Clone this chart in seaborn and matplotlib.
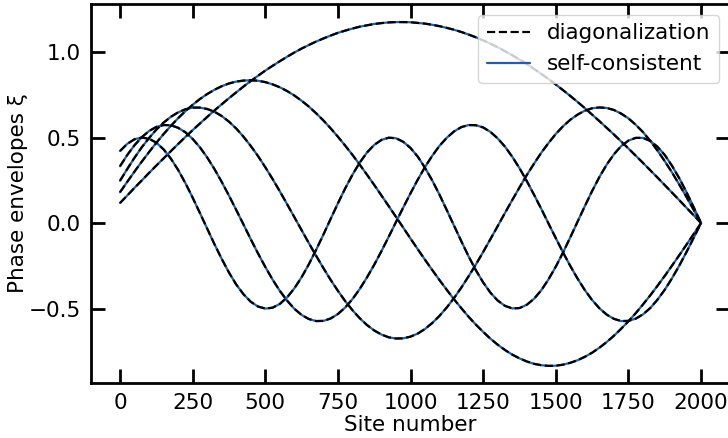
import numpy as np
import pandas as pd
import matplotlib
matplotlib.use("Agg")
import matplotlib.pyplot as plt
import seaborn as sns

# Site positions (every 25 sites)
sites = list(range(0, 2001, 25))

# Phase envelopes (5 modes)
mode1 = [0.117, 0.161, 0.206, 0.249, 0.293, 0.336, 0.378, 0.420, 0.462, 0.503,
         0.543, 0.582, 0.620, 0.658, 0.694, 0.730, 0.764, 0.798, 0.830, 0.861,
         0.891, 0.919, 0.946, 0.972, 0.997, 1.020, 1.041, 1.061, 1.079, 1.096,
         1.112, 1.125, 1.137, 1.148, 1.156, 1.164, 1.169, 1.173, 1.175, 1.175,
         1.174, 1.170, 1.166, 1.159, 1.151, 1.141, 1.130, 1.117, 1.102, 1.086,
         1.068, 1.049, 1.028, 1.005, 0.981, 0.956, 0.930, 0.901, 0.872, 0.842,
         0.810, 0.777, 0.743, 0.708, 0.672, 0.634, 0.596, 0.557, 0.518, 0.477,
         0.436, 0.394, 0.352, 0.309, 0.266, 0.222, 0.178, 0.134, 0.089, 0.045, 0.000]
mode2 = [0.180, 0.241, 0.301, 0.359, 0.415, 0.469, 0.520, 0.568, 0.613, 0.654,
         0.691, 0.725, 0.754, 0.779, 0.800, 0.816, 0.827, 0.833, 0.835, 0.832,
         0.824, 0.811, 0.794, 0.772, 0.746, 0.715, 0.681, 0.642, 0.600, 0.554,
         0.505, 0.453, 0.399, 0.342, 0.283, 0.223, 0.161, 0.099, 0.036, -0.027,
         -0.091, -0.153, -0.215, -0.275, -0.334, -0.391, -0.446, -0.498, -0.548, -0.594,
         -0.636, -0.676, -0.711, -0.742, -0.769, -0.791, -0.809, -0.823, -0.831, -0.835,
         -0.834, -0.828, -0.817, -0.802, -0.782, -0.758, -0.729, -0.696, -0.659, -0.618,
         -0.574, -0.527, -0.476, -0.423, -0.367, -0.309, -0.249, -0.188, -0.126, -0.063, 0.000]
mode3 = [0.247, 0.316, 0.382, 0.443, 0.497, 0.546, 0.587, 0.621, 0.647, 0.665,
         0.675, 0.675, 0.667, 0.651, 0.626, 0.593, 0.553, 0.505, 0.451, 0.392,
         0.327, 0.258, 0.186, 0.111, 0.035, -0.041, -0.117, -0.191, -0.263, -0.332,
         -0.396, -0.456, -0.509, -0.556, -0.596, -0.628, -0.652, -0.668, -0.675, -0.674,
         -0.664, -0.646, -0.619, -0.584, -0.542, -0.493, -0.438, -0.377, -0.311, -0.242,
         -0.169, -0.094, -0.018, 0.059, 0.134, 0.208, 0.280, 0.347, 0.411, 0.468,
         0.521, 0.566, 0.604, 0.634, 0.657, 0.671, 0.676, 0.673, 0.661, 0.640,
         0.612, 0.575, 0.532, 0.481, 0.424, 0.362, 0.296, 0.225, 0.152, 0.076, 0.000]
mode4 = [0.332, 0.398, 0.455, 0.502, 0.538, 0.562, 0.573, 0.572, 0.557, 0.531,
         0.492, 0.443, 0.384, 0.316, 0.241, 0.161, 0.077, -0.008, -0.094, -0.177,
         -0.256, -0.330, -0.396, -0.453, -0.501, -0.537, -0.561, -0.573, -0.572, -0.558,
         -0.532, -0.494, -0.445, -0.386, -0.318, -0.244, -0.164, -0.080, 0.006, 0.091,
         0.174, 0.254, 0.328, 0.394, 0.452, 0.499, 0.536, 0.561, 0.573, 0.572,
         0.559, 0.533, 0.495, 0.447, 0.388, 0.321, 0.246, 0.166, 0.083, -0.003,
         -0.088, -0.172, -0.251, -0.325, -0.392, -0.450, -0.498, -0.535, -0.560, -0.573,
         -0.572, -0.559, -0.534, -0.497, -0.448, -0.390, -0.323, -0.249, -0.169, -0.085, 0.000]
mode5 = [0.421, 0.463, 0.490, 0.500, 0.493, 0.470, 0.431, 0.377, 0.311, 0.234,
         0.149, 0.059, -0.032, -0.123, -0.209, -0.289, -0.359, -0.416, -0.460, -0.488,
         -0.500, -0.495, -0.473, -0.435, -0.382, -0.317, -0.241, -0.157, -0.068, 0.024,
         0.115, 0.202, 0.282, 0.353, 0.412, 0.457, 0.486, 0.499, 0.496, 0.475,
         0.439, 0.388, 0.323, 0.248, 0.165, 0.075, -0.016, -0.107, -0.195, -0.276,
         -0.347, -0.407, -0.453, -0.484, -0.499, -0.497, -0.478, -0.443, -0.393, -0.329,
         -0.255, -0.172, -0.083, 0.008, 0.099, 0.187, 0.269, 0.341, 0.402, 0.450,
         0.482, 0.498, 0.498, 0.480, 0.446, 0.398, 0.335, 0.262, 0.180, 0.091, 0.000]

modes = [mode1, mode2, mode3, mode4, mode5]
labels = ["diagonalization", "self-consistent"]
xticks = [0, 250, 500, 750, 1000, 1250, 1500, 1750, 2000]
yticks = [-0.5, 0.0, 0.5, 1.0]

sns.set_theme(style="ticks")
plt.rcParams['font.family'] = ['DejaVu Sans']
plt.rcParams.update({"text.color": "black", "axes.labelcolor": "black",
                     "xtick.color": "black", "ytick.color": "black"})

fig = plt.figure(figsize=(7.28, 4.38), dpi=100)
ax = fig.add_axes([0.1249, 0.1256, 0.878, 0.865])

rows = []
for i, m in enumerate(modes):
    n = min(len(m), len(sites))
    for s, v in zip(sites[:n], m[:n]):
        rows.append({"site": s, "xi": v, "mode": i + 1})
df = pd.DataFrame(rows)

blue = "#2060a6"
for i in range(len(modes)):
    d = df[df["mode"] == i + 1]
    sns.lineplot(data=d, x="site", y="xi", ax=ax, color=blue, linewidth=1.6,
                 label=labels[1] if i == 0 else None, legend=False, zorder=2)
for i in range(len(modes)):
    d = df[df["mode"] == i + 1]
    sns.lineplot(data=d, x="site", y="xi", ax=ax, color="black", linewidth=1.6,
                 linestyle="--", label=labels[0] if i == 0 else None, legend=False, zorder=3)

fs = 15.5
ax.set_xticks(xticks)
ax.set_yticks(yticks)
ax.set_xlim(-100, 2100)
ax.set_ylim(-0.935, 1.28)
ax.set_xlabel("Site number", fontsize=fs, labelpad=2)
ax.set_ylabel("Phase envelopes ξ", fontsize=fs, labelpad=1)
ax.tick_params(direction="in", length=10, width=2, labelsize=fs,
               top=True, right=True, pad=7)
for sp in ax.spines.values():
    sp.set_linewidth(2)
    sp.set_color("black")

h, l = ax.get_legend_handles_labels()
order = [l.index(labels[0]), l.index(labels[1])]
ax.legend([h[k] for k in order], [l[k] for k in order], loc="upper right",
          fontsize=fs, frameon=True, framealpha=0.8, borderaxespad=0.5,
          handlelength=2.0)

fig.savefig("out.png", dpi=100)
